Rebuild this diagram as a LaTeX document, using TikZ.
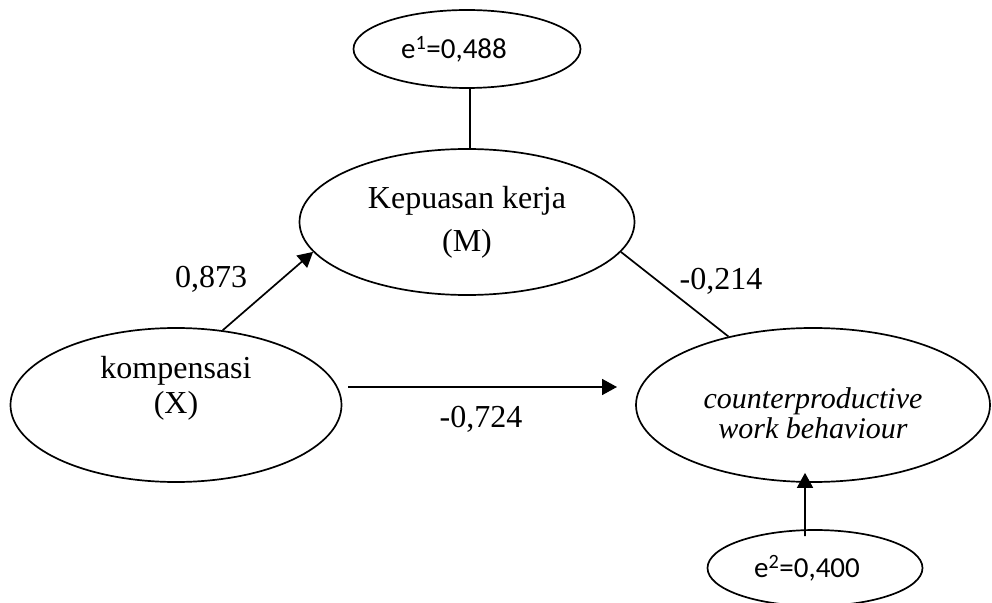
\documentclass[tikz,border=0pt]{standalone}
\usepackage{fontspec}
\setmainfont{Liberation Serif}
\newfontfamily\calib{Carlito}
\usetikzlibrary{shapes.geometric,arrows.meta}
\begin{document}
\begin{tikzpicture}[x=1bp,y=-1bp,
  every node/.style={font=\fontsize{32bp}{36bp}\selectfont},
  var/.style={draw,ellipse,line width=1.7bp,inner sep=0pt,align=center},
  err/.style={draw,ellipse,line width=1.7bp,inner sep=0pt,
    font=\calib\fontsize{29bp}{34bp}\selectfont},
  conn/.style={line width=1.7bp},
  arr/.style={conn,-{Triangle[length=15bp,width=16bp]}},
  lbl/.style={inner sep=0pt,anchor=base}]
\useasboundingbox (0,0) rectangle (992,603);
\fill[white] (0,0) rectangle (992,603);
% error terms
\node[err,minimum width=227bp,minimum height=78bp] (e1) at (467,49)
  {e\textsuperscript{1}=0,488\hspace*{26bp}};
\node[err,minimum width=215bp,minimum height=76bp] (e2) at (815,568)
  {e\textsuperscript{2}=0,400\hspace*{16bp}};
% latent variables
\node[var,minimum width=335bp,minimum height=146bp] (m) at (467,222)
  {Kepuasan kerja\\[7bp](M)};
\node[var,minimum width=331bp,minimum height=154bp] (x) at (176,405)
  {kompensasi\\[-1bp](X)\\[-6bp]\strut};
\node[var,minimum width=354bp,minimum height=154bp,
  font=\itshape\fontsize{30bp}{30bp}\selectfont] (y) at (813,405)
  {\strut\\[-14bp]counterproductive\\work behaviour};
% connectors
\draw[conn] ([xshift=3bp]e1.south) -- ([xshift=3bp]m.north);
\draw[arr] (x.58) -- (m.191);
\draw[conn] (m.-11) -- (y.141);
\coordinate (a1) at (348,387);
\coordinate (a2) at (617,387);
\draw[arr] (a1) -- (a2);
\draw[arr] ([xshift=-10bp,yshift=-7bp]e2.north) -- ([xshift=-8bp,yshift=10bp]y.south);
% path coefficients
\node[lbl] (l1) at (211,288) {0,873};
\node[lbl] (l2) at (721,290) {-0,214};
\node[lbl] (l3) at (481,427) {-0,724};
\end{tikzpicture}
\end{document}
